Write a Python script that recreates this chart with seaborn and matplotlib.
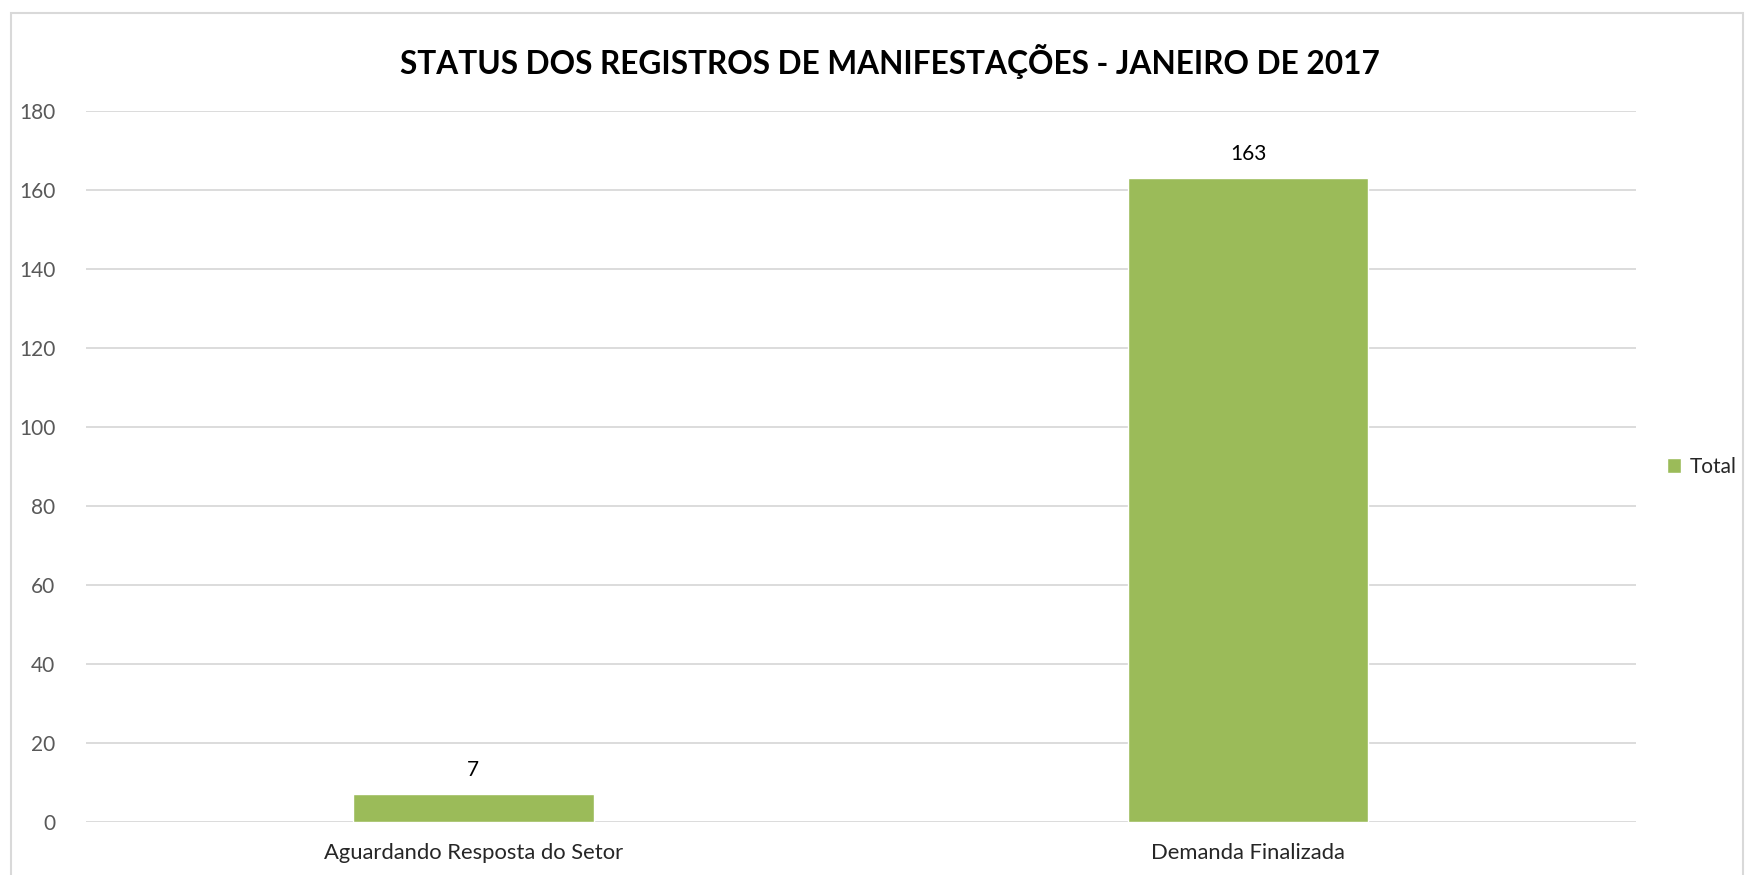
import pandas as pd
import matplotlib.pyplot as plt
import seaborn as sns
from matplotlib.patches import Rectangle

categories = ['Aguardando Resposta do Setor', 'Demanda Finalizada']
totals = [7, 163]
series_name = 'Total'
y_ticks = [0, 20, 40, 60, 80, 100, 120, 140, 160, 180]

df = pd.DataFrame({'Status': categories, 'Valor': totals, 'Serie': series_name})

sns.set_theme(style='white')
plt.rcParams['font.family'] = ['Lato', 'DejaVu Sans']

fig = plt.figure(figsize=(17.55, 8.75), dpi=100)
ax = fig.add_axes([0.049, 0.0606, 0.883, 0.8125])

sns.barplot(data=df, x='Status', y='Valor', hue='Serie', palette=['#9BBB59'],
            width=0.31, saturation=1, ax=ax, legend=True)

ax.set_ylim(0, 180)
ax.set_yticks(y_ticks)
ax.set_xlim(-0.5, 1.5)
ax.grid(axis='y', color='#D9D9D9', linewidth=1.3)
ax.set_axisbelow(True)
for s in ax.spines.values():
    s.set_visible(False)
ax.tick_params(axis='y', colors='#595959', labelsize=15, length=0, pad=22)
ax.tick_params(axis='x', colors='#404040', labelsize=15.8, length=0, pad=15)
for lab in ax.get_yticklabels():
    lab.set_color('#595959')
for lab in ax.get_xticklabels():
    lab.set_color('#262626')
ax.set_xlabel('')
ax.set_ylabel('')

for c in ax.containers:
    ax.bar_label(c, fmt='%d', padding=10, fontsize=15, color='#000000')

sns.move_legend(ax, 'center left', bbox_to_anchor=(1.008, 0.5), frameon=False,
                title=None, fontsize=15, handlelength=0.7, handleheight=0.7,
                handletextpad=0.4)

fig.text(0.507, 0.93, 'STATUS DOS REGISTROS DE MANIFESTAÇÕES - JANEIRO DE 2017',
         ha='center', va='center', fontsize=22.8, fontweight='bold', color='#000000')

fig.patches.append(Rectangle((0.006, -0.01), 0.987, 0.995, transform=fig.transFigure,
                             fill=False, edgecolor='#D9D9D9', linewidth=1.5))

plt.savefig('out.png', dpi=100)
